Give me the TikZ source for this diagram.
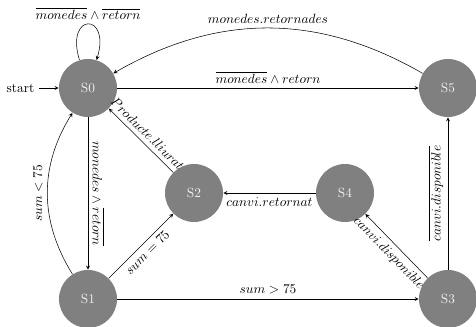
\documentclass[tikz,border=0pt]{standalone}
\usetikzlibrary{arrows}
\begin{document}
\begin{tikzpicture}[x=0.75pt,y=0.75pt,>=stealth,
  state/.style={circle,fill=gray,text=white!88!gray,minimum size=43.5pt,inner sep=0pt},
  every edge/.style={draw,->}]
\useasboundingbox (0,0) rectangle (476,-327);
\node[state] (S0) at (88,-88) {S0};
\node[state] (S5) at (448,-88) {S5};
\node[state] (S1) at (88,-299) {S1};
\node[state] (S2) at (194,-193) {S2};
\node[state] (S4) at (345,-193) {S4};
\node[state] (S3) at (448,-299) {S3};
\node (start) at (20.5,-88) {start};
\draw[->] (start) -- (S0);
\draw[->] (S0) to[out=107,in=73,looseness=7.5] node[above] {$\overline{monedes}\wedge\overline{retorn}$} (S0);
\draw[->] (S5) to[bend right=30] node[above] {$monedes.retornades$} (S0);
\draw[->] (S0) -- node[above] {$\overline{monedes}\wedge retorn$} (S5);
\draw[->] (S0) -- node[above,sloped] {$monedes\wedge\overline{retorn}$} (S1);
\draw[->] (S1) to[bend left=32] node[above,sloped] {$sum<75$} (S0);
\draw[->] (S1) -- node[below,sloped] {$sum=75$} (S2);
\draw[->] (S2) -- node[above,sloped] {$Producte.lliurat$} (S0);
\draw[->] (S4) -- node[below] {$canvi.retornat$} (S2);
\draw[->] (S3) -- node[below,sloped] {$canvi.disponible$} (S4);
\draw[->] (S3) -- node[above,sloped] {$\overline{canvi.disponible}$} (S5);
\draw[->] (S1) -- node[above] {$sum>75$} (S3);
\end{tikzpicture}
\end{document}
